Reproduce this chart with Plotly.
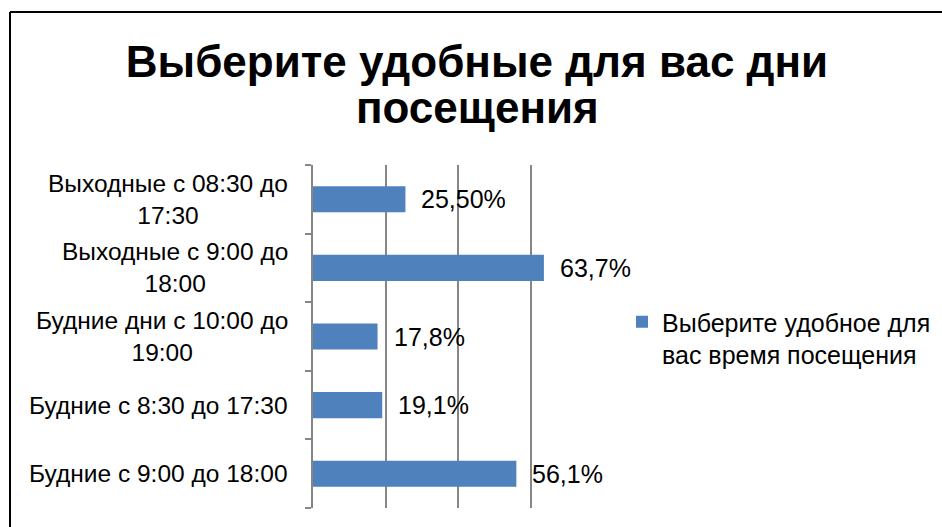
import plotly.graph_objects as go

categories = [
    "Будние с 9:00 до 18:00",
    "Будние с 8:30 до 17:30",
    "Будние дни с 10:00 до<br>19:00",
    "Выходные с 9:00 до<br>18:00",
    "Выходные с 08:30 до<br>17:30",
]
values = [56.1, 19.1, 17.8, 63.7, 25.5]
value_labels = ["56,1%", "19,1%", "17,8%", "63,7%", "25,50%"]
series_name = "Выберите удобное для<br>вас время посещения"
title_lines = ["Выберите удобные для вас дни", "посещения"]

FONT = "Liberation Sans, Arial, sans-serif"
BLUE = "#4F81BD"
GRID = "#868686"

W, H = 942, 527
ML, MR, MT, MB = 313, 339, 165, 19
plot_w = W - ML - MR
plot_h = H - MT - MB

fig = go.Figure()
fig.add_trace(go.Bar(
    y=categories, x=values, orientation="h", name=series_name,
    marker=dict(color=BLUE, line=dict(width=0)),
    showlegend=True,
))

annotations = []
for c, v, t in zip(categories, values, value_labels):
    annotations.append(dict(x=v, y=c, xref="x", yref="y", text=t, showarrow=False,
                            xanchor="left", yanchor="middle", xshift=14,
                            font=dict(family=FONT, size=25, color="#000")))
    annotations.append(dict(x=0, y=c, xref="paper", yref="y", text=c, showarrow=False,
                            xanchor="right", yanchor="middle", xshift=-23, align="center",
                            font=dict(family=FONT, size=24.5, color="#000")))

# title, second line placed as its own text for Excel-like tight line spacing
title_cx = (477 - ML) / plot_w
annotations.append(dict(x=title_cx, y=1 + (MT - 108) / plot_h, xref="paper", yref="paper",
                        text="<b>" + title_lines[1] + "</b>", showarrow=False,
                        xanchor="center", yanchor="middle",
                        font=dict(family=FONT, size=44, color="#000")))

fig.update_layout(
    width=W, height=H,
    margin=dict(l=ML, r=MR, t=MT, b=MB, autoexpand=False),
    paper_bgcolor="white", plot_bgcolor="white",
    bargap=0.62,
    title=dict(text="<b>" + title_lines[0] + "</b>", x=477 / W, xanchor="center",
               y=1 - 62 / H, yanchor="middle", yref="container",
               font=dict(family=FONT, size=44, color="#000")),
    xaxis=dict(range=[0, 80], dtick=20, showticklabels=False, showgrid=True,
               gridcolor=GRID, gridwidth=2, zeroline=False, showline=False, fixedrange=True),
    yaxis=dict(showticklabels=False, showline=True, linecolor=GRID, linewidth=2,
               ticks="outside", tickson="boundaries", ticklen=6, tickcolor=GRID, tickwidth=1.5,
               showgrid=False, fixedrange=True),
    legend=dict(x=1 + 19 / plot_w, xanchor="left", y=1 - (338 - MT) / plot_h, yanchor="middle",
                xref="paper", valign="top",
                font=dict(family=FONT, size=25, color="#000"),
                bgcolor="rgba(0,0,0,0)", itemwidth=30, tracegroupgap=0),
    annotations=annotations,
)

px_left = (10 - ML) / plot_w
py_top = (H - MB - 12) / plot_h
fig.add_shape(type="line", xref="paper", yref="paper", x0=px_left, x1=(W + 5 - ML) / plot_w,
              y0=py_top, y1=py_top, line=dict(color="#000", width=2))
fig.add_shape(type="line", xref="paper", yref="paper", x0=px_left, x1=px_left,
              y0=py_top, y1=-0.2, line=dict(color="#000", width=2))

fig.write_html("out.html", config={"displayModeBar": False},
               post_script="document.body.style.margin='0';")
